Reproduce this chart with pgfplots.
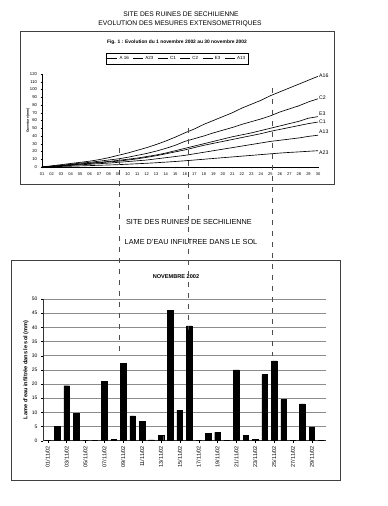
\documentclass[border=0pt]{standalone}
\usepackage{fontspec}
\setmainfont{Liberation Sans}
\usepackage{pgfplots}
\pgfplotsset{compat=1.18}
\usepackage{pgfplotstable}

\newcommand{\fs}[1]{\fontsize{#1}{#1}\selectfont}

\pgfplotstableread{
day A16 A23 C1 C2 E3 A13
1 0 0 0 0 0 0
2 1.5 0.3 0.8 1 0.8 0.5
3 3 0.7 1.6 2 1.8 1.2
4 4.5 1 2.6 3.5 3 2
5 6 1.4 3.6 5 4 2.8
6 7.5 1.8 4.5 6 5 3.5
7 9.5 2.2 5.5 7.5 6 4.3
8 12 2.6 6.5 9 7.2 5
9 15 3 7.5 10.5 8.5 6
10 18 3.6 9 12.5 10 7
11 21.5 4.2 10.5 15 11.5 8
12 25 4.8 12.5 17.5 13.5 9
13 29 5.5 14.5 20.5 15.5 10.5
14 33.5 6.3 17 24 18 12
15 38.5 7.1 19.5 28 21 13.5
16 44 8 22 33 24 15
17 49 9 25 36.5 27 17
18 55 10 28 40 30 19
19 60 11 30.5 44 33 21
20 65 12 33 47.5 36 23
21 70 13 35.5 51 39 25
22 76 14 38 55 41.5 27
23 81 15 40.5 58.5 44 29
24 86 16 43 62 47 31
25 92 17 46 66 50 33
26 97 18 48.5 71 53 34.5
27 102 18.8 51 75 56 36
28 107 19.5 53.5 79 59 37.5
29 112 20.3 56 84 63 39.5
30 117 21 58 88 65 41
}\extdata

\pgfplotstableread{
day val
1 0
2 5
3 19.4
4 9.6
5 0
6 0
7 21
8 0.4
9 27.2
10 8.8
11 6.8
12 0.3
13 2
14 45.9
15 10.8
16 40.5
17 0
18 2.6
19 2.9
20 0
21 25
22 2
23 0.5
24 23.3
25 28.2
26 14.6
27 0
28 13
29 4.9
30 0
}\raindata

\begin{document}
\begin{tikzpicture}[x=1pt,y=1pt]
\path[use as bounding box, fill=white] (0,0) rectangle (388,506);

% page titles
\node[font=\fs{6.7}] at (181,491.7) {SITE DES RUINES DE SECHILIENNE};
\node[font=\fs{6.7}] at (180,482.7) {EVOLUTION DES MESURES EXTENSOMETRIQUES};

% top frame
\draw[black!75, line width=0.6pt] (20.5,475) rectangle (334,322);
\node[font=\bfseries\fs{4.9}] at (177,463.3) {Fig. 1 : Evolution du 1 novembre 2002 au 30 novembre 2002};

\begin{axis}[
  at={(42pt,339pt)}, anchor=south west, scale only axis,
  width=276pt, height=93pt,
  xmin=1, xmax=30, ymin=0, ymax=120,
  axis x line=bottom, axis y line=left,
  axis line style={-, line width=0.4pt, black},
  xtick={1,...,30},
  xticklabels={01,02,03,04,05,06,07,08,09,10,11,12,13,14,15,16,17,18,19,20,21,22,23,24,25,26,27,28,29,30},
  ytick={0,10,...,120},
  tick align=outside, major tick length=1.5pt,
  tick style={line width=0.3pt, black},
  xticklabel style={font=\fs{4}, yshift=-1pt},
  yticklabel style={font=\fs{4.2}},
  /pgf/number format/assume math mode=true,
  every axis y label/.style={at={(axis description cs:-0.051,0.5)}, rotate=90, anchor=center},
  ylabel={\bfseries Ouverture (mm)}, ylabel style={font=\fs{3.3}},
  clip=false,
  legend style={at={(axis description cs:0.489,1.167)}, anchor=center,
    legend columns=-1, draw=black, font=\fs{4.5}, inner sep=1pt,
    /tikz/every even column/.append style={column sep=2pt}},
  legend image code/.code={\draw[#1] (0pt,0pt) -- (10pt,0pt);},
]
\addplot[black, line width=0.65pt, mark=none] table[x=day,y=A16] {\extdata}; \addlegendentry{A 16}
\addplot[black, line width=0.65pt, mark=none] table[x=day,y=A23] {\extdata}; \addlegendentry{A23}
\addplot[black, line width=0.65pt, mark=none] table[x=day,y=C1] {\extdata}; \addlegendentry{C1}
\addplot[black, line width=0.65pt, mark=none] table[x=day,y=C2] {\extdata}; \addlegendentry{C2}
\addplot[black, line width=0.65pt, mark=none] table[x=day,y=E3] {\extdata}; \addlegendentry{E3}
\addplot[black, line width=0.65pt, mark=none] table[x=day,y=A13] {\extdata}; \addlegendentry{A13}
\node[anchor=west, font=\fs{5.2}, inner sep=1pt] at (axis cs:30,118) {A16};
\node[anchor=west, font=\fs{5.2}, inner sep=1pt] at (axis cs:30,89) {C2};
\node[anchor=west, font=\fs{5.2}, inner sep=1pt] at (axis cs:30,69) {E3};
\node[anchor=west, font=\fs{5.2}, inner sep=1pt] at (axis cs:30,59) {C1};
\node[anchor=west, font=\fs{5.2}, inner sep=1pt] at (axis cs:30,46) {A13};
\node[anchor=west, font=\fs{5.2}, inner sep=1pt] at (axis cs:30,18.5) {A23};
\end{axis}

% second titles
\node[font=\fs{7.3}] at (189,284.3) {SITE DES RUINES DE SECHILIENNE};
\node[font=\fs{7.3}] at (191,264) {LAME D'EAU INFILTREE DANS LE SOL};

% bottom frame
\draw[black!75, line width=0.6pt] (11.7,246) rectangle (340,25.3);
\node[font=\bfseries\fs{5.6}] at (176,229.3) {NOVEMBRE 2002};

\begin{axis}[
  at={(43pt,65.3pt)}, anchor=south west, scale only axis,
  width=283pt, height=141.7pt,
  xmin=0.5, xmax=30.5, ymin=0, ymax=50,
  axis x line=bottom, axis y line=left,
  axis line style={-, line width=0.4pt, black!80},
  ybar, bar width=5.6pt,
  ytick={0,5,...,50},
  ymajorgrids, grid style={black!45, line width=0.4pt},
  xtick={1,3,...,29},
  xticklabels={01/11/02,03/11/02,05/11/02,07/11/02,09/11/02,11/11/02,13/11/02,15/11/02,17/11/02,19/11/02,21/11/02,23/11/02,25/11/02,27/11/02,29/11/02},
  tick align=outside, major tick length=2pt,
  tick style={line width=0.3pt, black},
  xticklabel style={rotate=90, anchor=east, font=\fs{5.5}},
  yticklabel style={font=\fs{5}},
  /pgf/number format/assume math mode=true,
  every axis y label/.style={at={(axis description cs:-0.06,0.5)}, rotate=90, anchor=center},
  ylabel={\bfseries Lame d'eau infiltrée dans le sol (mm)}, ylabel style={font=\fs{5.6}},
]
\addplot[fill=black, draw=black, bar shift=0pt] table[x=day,y=val] {\raindata};
\end{axis}

% hand-drawn dashed annotation lines
\begin{scope}[black!70, line width=0.5pt, dash pattern=on 5pt off 6pt]
\draw (119,358) -- (119,150);
\draw (188.3,378) -- (188.3,176);
\draw (272.5,418) -- (272.5,150);
\end{scope}
\end{tikzpicture}
\end{document}
